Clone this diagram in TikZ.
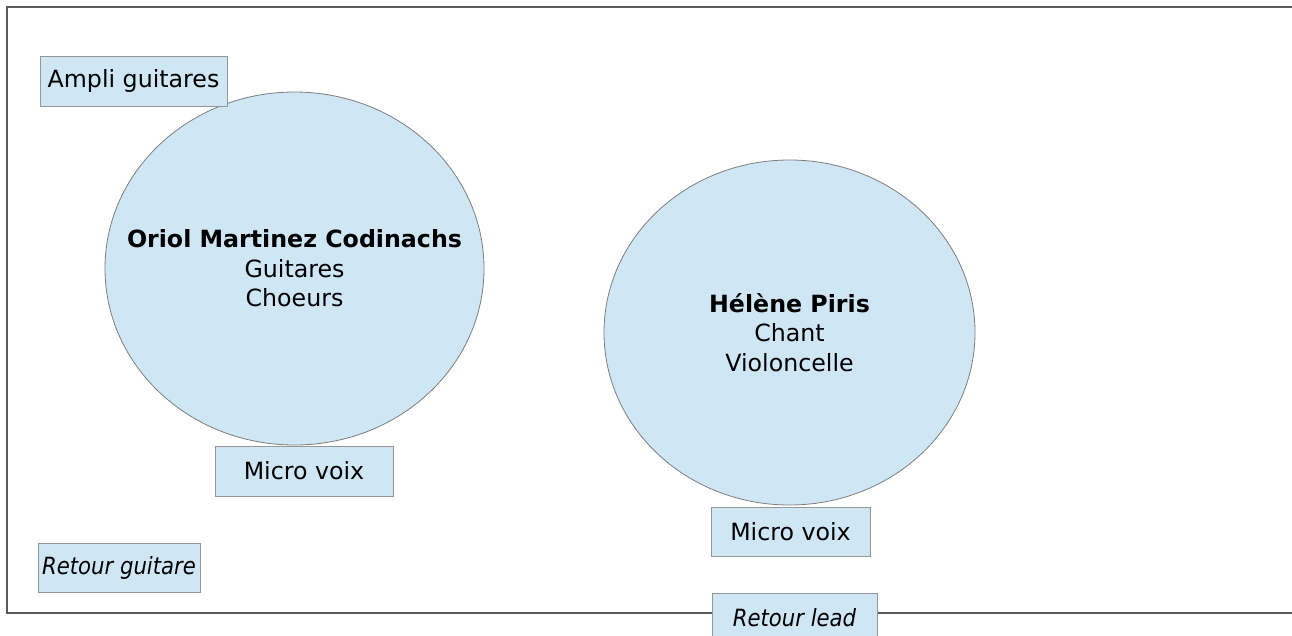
\documentclass[tikz,border=0pt]{standalone}
\usepackage{fontspec}
\setmainfont{DejaVu Sans}
\definecolor{paleblue}{RGB}{207,231,244}
\definecolor{boxline}{RGB}{150,150,150}
\definecolor{circline}{RGB}{125,125,125}
\definecolor{frameline}{RGB}{90,90,90}
\newcommand{\narrowit}[1]{\scalebox{0.895}[1]{\itshape #1}}
\tikzset{
  txt/.style={font=\fontsize{23.7}{29.5}\selectfont, text=black, align=center},
  gearbox/.style={txt, rectangle, draw=boxline, line width=1pt, fill=paleblue, inner sep=0pt},
  musician/.style={draw=circline, line width=0.8pt, fill=paleblue},
}
\begin{document}
\begin{tikzpicture}[x=1pt,y=-1pt]
\useasboundingbox (0,0) rectangle (1292,635);
\fill[white] (0,0) rectangle (1292,635);
\draw[frameline, line width=1.2pt] (1310,7) -- (7,7) -- (7,613) -- (1310,613);
\path[musician] (294.5,268.5) ellipse [x radius=189.5pt, y radius=176.5pt];
\node[txt] (c1) at (294.5,268.5)
  {\textbf{Oriol Martinez Codinachs}\\Guitares\\Choeurs};
\path[musician] (789.5,332.5) ellipse [x radius=185.5pt, y radius=172.5pt];
\node[txt] (c2) at (789.5,332.5)
  {\textbf{Hélène Piris}\\Chant\\Violoncelle};
\node[gearbox, minimum width=187pt, minimum height=50pt] (amp) at (133.5,81) {Ampli guitares};
\node[gearbox, minimum width=178pt, minimum height=50pt] (mic1) at (304,471) {Micro voix};
\node[gearbox, minimum width=162pt, minimum height=49pt] (retg) at (119,567.5) {\narrowit{Retour guitare}};
\node[gearbox, minimum width=159pt, minimum height=49pt] (mic2) at (790.5,531.5) {Micro voix};
\node[gearbox, minimum width=165pt, minimum height=50pt] (retl) at (794.5,618) {\narrowit{Retour lead}};
\end{tikzpicture}
\end{document}
